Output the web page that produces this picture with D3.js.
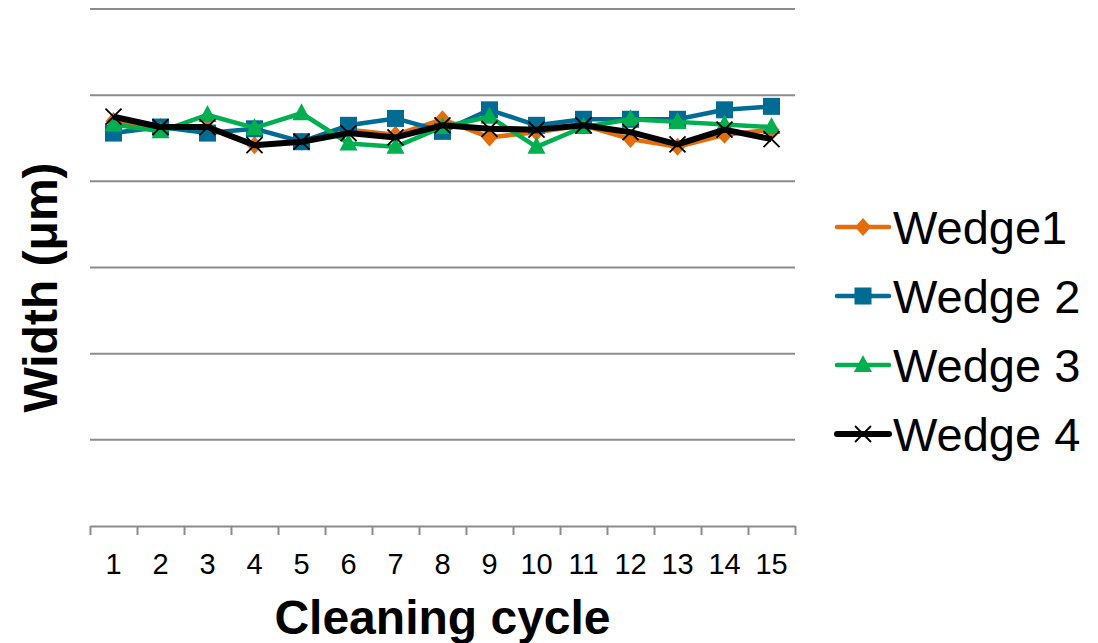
<!DOCTYPE html>
<html>
<head>
<meta charset="utf-8">
<script src="https://cdn.jsdelivr.net/npm/d3@7"></script>
<style>
  body { margin: 0; background: #fff; }
  svg { display: block; font-family: "Liberation Sans", Arial, sans-serif; }
</style>
</head>
<body>
<div id="chart"></div>
<script>
const cycles = ["1","2","3","4","5","6","7","8","9","10","11","12","13","14","15"];
const wedge1 = [4.70,4.63,4.62,4.42,4.46,4.60,4.54,4.72,4.51,4.57,4.65,4.49,4.40,4.54,4.60];
const wedge2 = [4.56,4.63,4.56,4.61,4.46,4.65,4.73,4.58,4.83,4.65,4.72,4.72,4.72,4.83,4.87];
const wedge3 = [4.66,4.58,4.77,4.62,4.79,4.44,4.40,4.63,4.75,4.40,4.63,4.72,4.69,4.66,4.63];
const wedge4 = [4.75,4.63,4.63,4.42,4.46,4.56,4.51,4.65,4.61,4.60,4.65,4.57,4.43,4.60,4.49];
const seriesNames = ["Wedge1", "Wedge 2", "Wedge 3", "Wedge 4"];
const gridValues = [1, 2, 3, 4, 5, 6];

const series = [
  { name: seriesNames[0], values: wedge1, color: "#E46C0A", marker: "diamond", lw: 4.5 },
  { name: seriesNames[1], values: wedge2, color: "#006C93", marker: "square", lw: 4.5 },
  { name: seriesNames[2], values: wedge3, color: "#00B050", marker: "triangle", lw: 4.5 },
  { name: seriesNames[3], values: wedge4, color: "#000000", marker: "x", lw: 6 }
];

const W = 1098, H = 643;
const plotL = 90, plotR = 795, plotT = 9, plotB = 526;

const svg = d3.select("#chart").append("svg")
  .attr("width", W).attr("height", H);

const x = d3.scaleBand().domain(cycles).range([plotL, plotR]);
const xEdge = d3.scaleLinear().domain([0, cycles.length]).range([plotL, plotR]);
const y = d3.scaleLinear().domain([0, 6]).range([plotB, plotT]);

// gridlines
svg.append("g").selectAll("line")
  .data(gridValues).enter().append("line")
  .attr("x1", plotL).attr("x2", plotR)
  .attr("y1", d => y(d)).attr("y2", d => y(d))
  .attr("stroke", "#8c8c8c").attr("stroke-width", 2);

// x axis: boundary ticks
const axisG = svg.append("g")
  .attr("transform", `translate(0,${plotB})`)
  .call(d3.axisBottom(xEdge).tickValues(d3.range(cycles.length + 1))
    .tickSize(9).tickSizeOuter(0).tickFormat(""));
axisG.select(".domain").attr("stroke", "#8c8c8c").attr("stroke-width", 2);
axisG.selectAll(".tick line").attr("stroke", "#8c8c8c").attr("stroke-width", 2);

// x labels
const labG = svg.append("g")
  .attr("transform", `translate(0,${plotB})`)
  .call(d3.axisBottom(x).tickSize(0).tickPadding(27));
labG.select(".domain").remove();
labG.selectAll("text").attr("font-size", 29).attr("fill", "#000")
  .attr("font-family", "Liberation Sans, Arial, sans-serif");

// axis titles
svg.append("text")
  .attr("x", (plotL + plotR) / 2 + 0).attr("y", 634)
  .attr("text-anchor", "middle")
  .attr("font-size", 48).attr("font-weight", "bold")
  .text("Cleaning cycle");

svg.append("text")
  .attr("transform", `translate(57,${(plotT + plotB) / 2 + 20}) rotate(-90)`)
  .attr("text-anchor", "middle")
  .attr("font-size", 48).attr("font-weight", "bold")
  .text("Width (μm)");

function drawMarker(g, type, color) {
  if (type === "diamond") {
    g.append("path").attr("d", "M0,-9L8,0L0,9L-8,0Z").attr("fill", color);
  } else if (type === "square") {
    g.append("rect").attr("x", -8.5).attr("y", -8.5).attr("width", 17).attr("height", 17).attr("fill", color);
  } else if (type === "triangle") {
    g.append("path").attr("d", "M0,-10L9,7L-9,7Z").attr("fill", color);
  } else {
    g.append("path").attr("d", "M-8,-8L8,8M-8,8L8,-8")
      .attr("stroke", color).attr("stroke-width", 1.8).attr("fill", "none");
  }
}

const line = d3.line()
  .x((d, i) => x(cycles[i]) + x.bandwidth() / 2)
  .y(d => y(d));

series.forEach(s => {
  const g = svg.append("g");
  g.append("path")
    .attr("d", line(s.values))
    .attr("fill", "none")
    .attr("stroke", s.color)
    .attr("stroke-width", s.lw)
    .attr("stroke-linejoin", "round");
  s.values.forEach((v, i) => {
    const m = g.append("g")
      .attr("transform", `translate(${x(cycles[i]) + x.bandwidth() / 2},${y(v)})`);
    drawMarker(m, s.marker, s.color);
  });
});

// legend
const legend = svg.append("g");
series.forEach((s, i) => {
  const ly = 227 + i * 69;
  const lg = legend.append("g");
  lg.append("line")
    .attr("x1", 837).attr("x2", 889).attr("y1", ly).attr("y2", ly)
    .attr("stroke", s.color).attr("stroke-width", s.lw).attr("stroke-linecap", "round");
  const m = lg.append("g").attr("transform", `translate(863,${ly})`);
  drawMarker(m, s.marker, s.color);
  lg.append("text")
    .attr("x", 893).attr("y", ly + 17)
    .attr("font-size", 47)
    .text(s.name);
});
</script>
</body>
</html>
